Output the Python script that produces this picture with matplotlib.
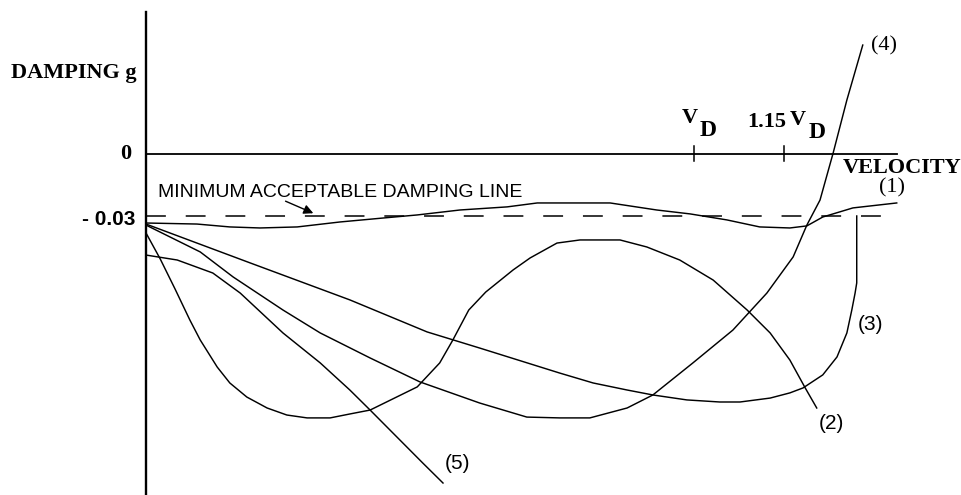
import matplotlib
matplotlib.use('Agg')
import matplotlib.pyplot as plt

# velocity in units of V_D, damping g
v1 = [0.0, 0.093, 0.153, 0.208, 0.276, 0.354, 0.432, 0.495, 0.573, 0.659, 0.714, 0.847,
      0.932, 0.993, 1.060, 1.120, 1.175, 1.206, 1.235, 1.290, 1.370]
g1 = [-0.0334, -0.0339, -0.0353, -0.0358, -0.0353, -0.0329, -0.0310, -0.0295, -0.0271, -0.0256,
      -0.0237, -0.0237, -0.0271, -0.0290, -0.0319, -0.0353, -0.0358, -0.0348, -0.0305, -0.0261, -0.0237]

v2 = [0.0, 0.026, 0.053, 0.080, 0.099, 0.130, 0.153, 0.184, 0.221, 0.257, 0.294, 0.336, 0.372,
      0.409, 0.495, 0.536, 0.560, 0.589, 0.620, 0.670, 0.701, 0.750, 0.792, 0.865, 0.914, 0.974,
      1.035, 1.097, 1.139, 1.175, 1.203, 1.224]
g2 = [-0.0382, -0.0508, -0.0653, -0.0803, -0.0900, -0.1031, -0.1108, -0.1176, -0.1229, -0.1263,
      -0.1277, -0.1277, -0.1258, -0.1239, -0.1127, -0.1011, -0.0900, -0.0755, -0.0668, -0.0561,
      -0.0503, -0.0431, -0.0416, -0.0416, -0.0450, -0.0513, -0.0610, -0.0755, -0.0866, -0.0997,
      -0.1132, -0.1229]

v3 = [0.0, 0.190, 0.372, 0.513, 0.609, 0.755, 0.816, 0.878, 0.925, 0.987, 1.047, 1.084, 1.139,
      1.175, 1.199, 1.235, 1.261, 1.279, 1.288, 1.294, 1.297, 1.297]
g3 = [-0.0339, -0.0527, -0.0706, -0.0861, -0.0939, -0.1060, -0.1108, -0.1142, -0.1166, -0.1190,
      -0.1200, -0.1200, -0.1181, -0.1156, -0.1132, -0.1069, -0.0982, -0.0866, -0.0755, -0.0673,
      -0.0624, -0.0300]

v4 = [0.0, 0.099, 0.159, 0.250, 0.318, 0.409, 0.500, 0.609, 0.695, 0.755, 0.810, 0.878, 0.925,
      0.998, 1.071, 1.133, 1.181, 1.206, 1.230, 1.254, 1.279, 1.308]
g4 = [-0.0344, -0.0474, -0.0595, -0.0755, -0.0866, -0.0987, -0.1103, -0.1205, -0.1273, -0.1277,
      -0.1277, -0.1229, -0.1166, -0.1011, -0.0852, -0.0673, -0.0498, -0.0344, -0.0223, 0.0005,
      0.0261, 0.0527]

v5 = [0.0, 0.057, 0.122, 0.172, 0.250, 0.318, 0.372, 0.409, 0.505, 0.542]
g5 = [-0.0489, -0.0513, -0.0576, -0.0673, -0.0866, -0.1011, -0.1142, -0.1239, -0.1495, -0.1592]

g_min = -0.03
v_end = 1.370
tick_v = [1.0, 1.164]

fig = plt.figure(figsize=(9.62, 4.95), dpi=100)
ax = fig.add_axes([0, 0, 1, 1])
ax.set_xlim(-0.2664, 1.4891)
ax.set_ylim(-0.1650, 0.0745)
ax.axis('off')

# axes
ax.plot([0, 0], [0.0687, -0.1650], color='black', lw=1.7)
ax.plot([0, v_end], [0, 0], color='black', lw=1.3)
for t in tick_v:
    ax.plot([t, t], [0.0039, -0.0034], color='black', lw=1.1)

# minimum acceptable damping line
ax.plot([0, v_end], [g_min, g_min], color='black', lw=1.1, linestyle=(0, (13, 13)))

for v, g in [(v1, g1), (v2, g2), (v3, g3), (v4, g4), (v5, g5)]:
    ax.plot(v, g, color='black', lw=1.05)

bold = dict(family='Liberation Serif', weight='bold', fontsize=16, color='black')
ax.text(-0.0164, 0.0392, 'DAMPING g', ha='right', va='center', **bold)
ax.text(-0.026, 0.0, '0', ha='right', va='center', **bold)
ax.text(-0.020, -0.0319, '- 0.03', ha='right', va='center', family='Liberation Sans',
        weight='bold', fontsize=15)
ax.text(1.272, -0.0068, 'VELOCITY', ha='left', va='center', **bold)

ax.text(0.993, 0.0174, 'V', ha='center', va='center', **bold)
ax.text(1.025, 0.0116, 'D', ha='center', va='center', fontsize=17,
        family='Liberation Serif', weight='bold')
ax.text(1.168, 0.0155, '1.15', ha='right', va='center', **bold)
ax.text(1.189, 0.0165, 'V', ha='center', va='center', **bold)
ax.text(1.224, 0.0102, 'D', ha='center', va='center', fontsize=17,
        family='Liberation Serif', weight='bold')

ax.text(0.022, -0.0184, 'MINIMUM ACCEPTABLE DAMPING LINE', ha='left', va='center',
        family='Liberation Sans', fontsize=14)
ax.annotate('', xy=(0.310, -0.0292), xytext=(0.250, -0.0223),
            arrowprops=dict(arrowstyle='-|>', color='black', lw=1.0, mutation_scale=14))

ax.text(1.361, -0.0165, '(1)', ha='center', va='center', family='Liberation Serif', fontsize=16)
ax.text(1.250, -0.1306, '(2)', ha='center', va='center', family='Liberation Sans', fontsize=15)
ax.text(1.323, -0.0823, '(3)', ha='center', va='center', family='Liberation Sans', fontsize=15)
ax.text(1.347, 0.0523, '(4)', ha='center', va='center', family='Liberation Serif', fontsize=16)
ax.text(0.569, -0.1500, '(5)', ha='center', va='center', family='Liberation Sans', fontsize=15)

plt.savefig('out.png', dpi=100)
